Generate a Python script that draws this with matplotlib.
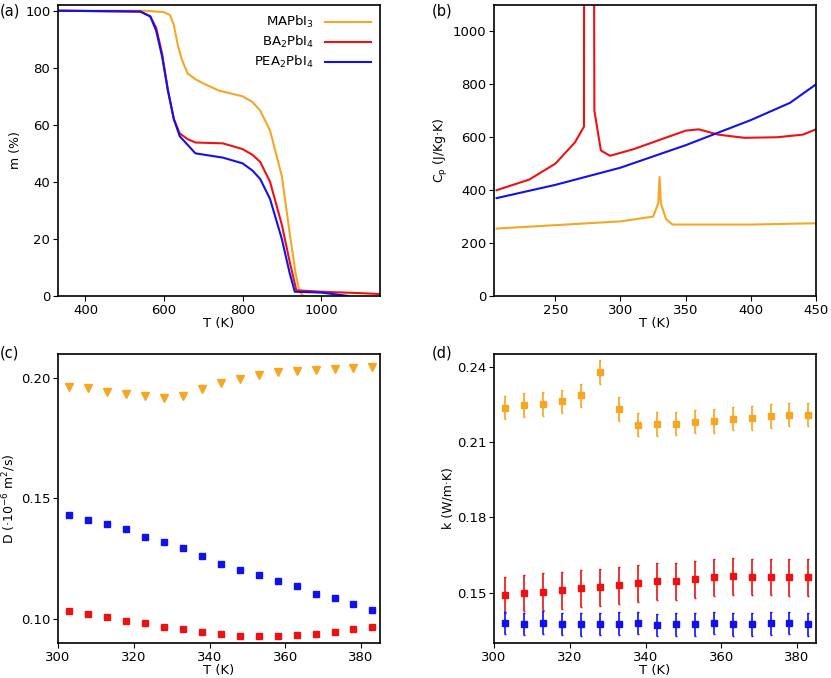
import matplotlib
matplotlib.use("Agg")
import matplotlib.pyplot as plt

ORANGE, RED, BLUE = "#f5a623", "#ee1111", "#1111ee"

# (a) TGA
tga_ma_T = [330, 550, 600, 615, 625, 635, 645, 660, 680, 700, 740, 800, 825, 845, 870, 900, 920, 935, 945, 955]
tga_ma_m = [100, 100, 99.5, 98.5, 95, 88, 83, 78, 76, 74.5, 72, 70, 68, 65, 58, 42, 22, 8, 1.5, 0]
tga_ba_T = [330, 540, 565, 580, 595, 610, 625, 640, 660, 680, 750, 800, 825, 845, 870, 900, 920, 937, 1000, 1100, 1150]
tga_ba_m = [100, 99.7, 98, 94, 85, 72, 62, 57, 55, 53.8, 53.5, 51.5, 49.5, 47, 40, 25, 12, 2, 1.5, 1, 0.7]
tga_pea_T = [330, 540, 565, 580, 595, 610, 625, 640, 660, 680, 750, 800, 825, 845, 870, 900, 920, 933, 1000, 1070]
tga_pea_m = [100, 99.7, 98, 93, 84, 72, 62, 56, 53, 50, 48.5, 46.5, 44, 41, 34, 20, 8, 1.5, 1.2, 0]

# (b) Cp
cp_ba_T = [205, 230, 250, 265, 272, 273, 278, 280, 285, 292, 310, 330, 350, 360, 375, 395, 420, 440, 450]
cp_ba = [400, 440, 500, 580, 640, 5000, 5000, 700, 550, 530, 555, 590, 625, 630, 610, 598, 600, 610, 630]
cp_pea_T = [205, 250, 300, 350, 400, 430, 450]
cp_pea = [370, 420, 485, 570, 665, 730, 800]
cp_ma_T = [205, 300, 325, 329, 330, 331, 335, 340, 400, 450]
cp_ma = [255, 282, 300, 350, 450, 350, 290, 270, 270, 275]

# (c), (d)
T_pts = [303, 308, 313, 318, 323, 328, 333, 338, 343, 348, 353, 358, 363, 368, 373, 378, 383]
D_ma = [0.1963, 0.1956, 0.1942, 0.1931, 0.1924, 0.1914, 0.1925, 0.1953, 0.1979, 0.1994, 0.2011, 0.2022, 0.2028, 0.2032, 0.2036, 0.2041, 0.2046]
D_pea = [0.1431, 0.1410, 0.1394, 0.1373, 0.1338, 0.1320, 0.1293, 0.1262, 0.1228, 0.1203, 0.1182, 0.1158, 0.1137, 0.1105, 0.1086, 0.1061, 0.1037]
D_ba = [0.1032, 0.1021, 0.1007, 0.0993, 0.0981, 0.0967, 0.0956, 0.0945, 0.0936, 0.0930, 0.0927, 0.0928, 0.0932, 0.0939, 0.0947, 0.0957, 0.0967]
k_ma = [0.2237, 0.2248, 0.2252, 0.2261, 0.2285, 0.2378, 0.2231, 0.2169, 0.2172, 0.2173, 0.2181, 0.2184, 0.2193, 0.2196, 0.2203, 0.2209, 0.2209]
k_ba = [0.1491, 0.1499, 0.1504, 0.1509, 0.1517, 0.1521, 0.1530, 0.1538, 0.1545, 0.1545, 0.1554, 0.1561, 0.1565, 0.1563, 0.1563, 0.1562, 0.1562]
k_pea = [0.1380, 0.1376, 0.1381, 0.1376, 0.1374, 0.1376, 0.1377, 0.1380, 0.1372, 0.1374, 0.1374, 0.1380, 0.1374, 0.1374, 0.1378, 0.1380, 0.1374]
k_ma_err = 0.0047
k_ba_err = 0.0073
k_pea_err = 0.0045

fig = plt.figure(figsize=(8.31, 6.78), dpi=100)
W, H = 831, 678
def ax_at(l, t, r, b):
    return fig.add_axes([l / W, 1 - b / H, (r - l) / W, (b - t) / H])

axa = ax_at(58, 5, 380, 296)
axb = ax_at(494, 5, 816, 296)
axc = ax_at(58, 354, 380, 643)
axd = ax_at(494, 354, 816, 643)

axa.plot(tga_ma_T, tga_ma_m, color=ORANGE, lw=1.5, label="MAPbI$_3$")
axa.plot(tga_ba_T, tga_ba_m, color=RED, lw=1.5, label="BA$_2$PbI$_4$")
axa.plot(tga_pea_T, tga_pea_m, color=BLUE, lw=1.5, label="PEA$_2$PbI$_4$")
axa.set_xlim(330, 1150); axa.set_ylim(0, 102)
axa.set_xticks([400, 600, 800, 1000]); axa.set_yticks([0, 20, 40, 60, 80, 100])
axa.set_ylabel("m (%)")
axa.legend(loc="upper right", frameon=False, markerfirst=False, handlelength=3.5, fontsize=9.5, borderaxespad=0.3, labelspacing=0.3)

axb.plot(cp_ba_T, cp_ba, color=RED, lw=1.5)
axb.plot(cp_pea_T, cp_pea, color=BLUE, lw=1.5)
axb.plot(cp_ma_T, cp_ma, color=ORANGE, lw=1.5)
axb.set_xlim(203, 450); axb.set_ylim(0, 1100)
axb.set_xticks([250, 300, 350, 400, 450]); axb.set_yticks([0, 200, 400, 600, 800, 1000])
axb.set_ylabel("C$_\\mathrm{p}$ (J/Kg·K)")

axc.plot(T_pts, D_ma, "v", color=ORANGE, ms=5.5, ls="none")
axc.plot(T_pts, D_pea, "s", color=BLUE, ms=5, ls="none")
axc.plot(T_pts, D_ba, "s", color=RED, ms=5, ls="none")
axc.set_xlim(300, 385); axc.set_ylim(0.090, 0.2098)
axc.set_xticks([300, 320, 340, 360, 380]); axc.set_yticks([0.10, 0.15, 0.20])
axc.yaxis.set_major_formatter(matplotlib.ticker.FormatStrFormatter("%.2f"))
axc.set_ylabel("D (·10$^{-6}$ m$^2$/s)")

axd.errorbar(T_pts, k_ma, yerr=k_ma_err, fmt="s", color=ORANGE, ms=5, elinewidth=1.2, capsize=1)
axd.errorbar(T_pts, k_ba, yerr=k_ba_err, fmt="s", color=RED, ms=5, elinewidth=1.2, capsize=1)
axd.errorbar(T_pts, k_pea, yerr=k_pea_err, fmt="s", color=BLUE, ms=5, elinewidth=1.2, capsize=1)
axd.set_xlim(300, 385); axd.set_ylim(0.130, 0.245)
axd.set_xticks([300, 320, 340, 360, 380]); axd.set_yticks([0.15, 0.18, 0.21, 0.24])
axd.yaxis.set_major_formatter(matplotlib.ticker.FormatStrFormatter("%.2f"))
axd.set_ylabel("k (W/m·K)")

for ax in (axa, axb, axc, axd):
    ax.set_xlabel("T (K)", labelpad=0, fontsize=9.5)
    ax.tick_params(labelsize=9.5, length=3.5, pad=2)
    for s in ax.spines.values():
        s.set_linewidth(1.2)
    ax.yaxis.label.set_size(9)
    ax.yaxis.labelpad = 2

for lbl, x, y in [("(a)", 0, 3), ("(b)", 432, 3), ("(c)", 0, 346), ("(d)", 432, 346)]:
    fig.text(x / W, 1 - y / H, lbl, fontsize=10.5, va="top", ha="left")

fig.savefig("out.png", dpi=100)
